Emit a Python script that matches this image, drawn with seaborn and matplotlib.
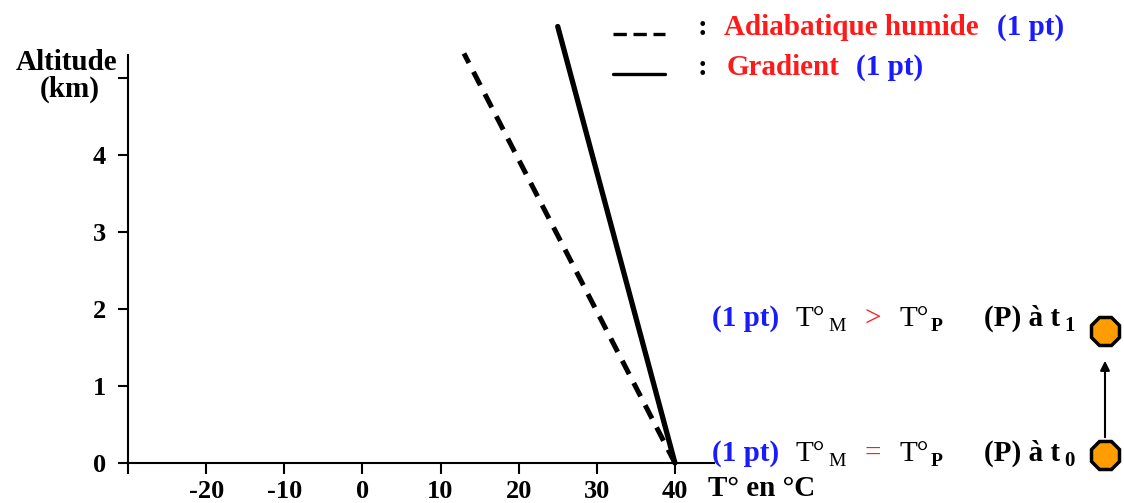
import numpy as np
import pandas as pd
import seaborn as sns
import matplotlib.pyplot as plt
from matplotlib.lines import Line2D

# ---- data ----
temp_humide = [40, 13]
alt_humide = [0, 5.32]
temp_gradient = [40, 25]
alt_gradient = [0, 5.67]
x_ticks = [-30, -20, -10, 0, 10, 20, 30, 40]
x_labels = ["", "-20", "-10", "0", "10", "20", "30", "40"]
y_ticks = [0, 1, 2, 3, 4, 5]
y_labels = ["0", "1", "2", "3", "4", ""]

sns.set_theme(style="white")
plt.rcParams['font.family'] = ['Liberation Serif', 'DejaVu Serif']
plt.rcParams['font.weight'] = 'bold'
plt.rcParams['text.color'] = 'black'

W, H = 1124, 503
fig = plt.figure(figsize=(W / 100, H / 100), dpi=100)
fig.patch.set_facecolor("white")


def px(x, y):
    return (x / W, 1 - y / H)


ax = fig.add_axes([128 / W, 1 - 463 / H, (714 - 128) / W, (463 - 55) / H])
ax.set_facecolor("white")

df_h = pd.DataFrame({"T": temp_humide, "alt": alt_humide})
df_g = pd.DataFrame({"T": temp_gradient, "alt": alt_gradient})
sns.lineplot(data=df_h, x="T", y="alt", sort=False, estimator=None, ax=ax,
             color="black", lw=3.6, linestyle=(0, (3.0, 2.0)), clip_on=False)
sns.lineplot(data=df_g, x="T", y="alt", sort=False, estimator=None, ax=ax,
             color="black", lw=3.8, clip_on=False)

ax.set_xlim(-30, 45)
ax.set_ylim(0, 5.3)
ax.set_xticks(x_ticks)
ax.set_xticklabels(x_labels)
ax.set_yticks(y_ticks)
ax.set_yticklabels(y_labels)
ax.set_xlabel("")
ax.set_ylabel("")
for s in ["top", "right"]:
    ax.spines[s].set_visible(False)
for s in ["left", "bottom"]:
    ax.spines[s].set_color("black")
    ax.spines[s].set_linewidth(1.5)
ax.tick_params(axis="x", bottom=True, direction="out", length=8, width=1.5,
               colors="black", labelsize=19, pad=4)
ax.tick_params(axis="y", left=True, direction="out", length=7, width=1.5,
               colors="black", labelsize=19, pad=9)
for lab in ax.get_xticklabels() + ax.get_yticklabels():
    lab.set_fontweight("bold")

fs = 21
# y-axis title
fig.text(*px(67, 70), "Altitude", ha="center", va="baseline", fontsize=fs, fontweight="bold")
fig.text(*px(70, 97), "(km)", ha="center", va="baseline", fontsize=fs, fontweight="bold")
# x-axis title
fig.text(*px(708, 496), "T° en °C", ha="left", va="baseline", fontsize=fs, fontweight="bold")

# legend
fig.add_artist(Line2D([px(613, 0)[0], px(665, 0)[0]], [px(0, 34)[1]] * 2, color="black",
                      lw=2.4, linestyle=(0, (4.0, 2.0)), transform=fig.transFigure))
fig.add_artist(Line2D([px(613, 0)[0], px(665, 0)[0]], [px(0, 74)[1]] * 2, color="black",
                      lw=2.4, transform=fig.transFigure))
fig.text(*px(698, 35), ":", ha="left", va="baseline", fontsize=fs, fontweight="bold")
fig.text(*px(724, 35), "Adiabatique humide", ha="left", va="baseline", fontsize=fs,
         fontweight="bold", color="#ff1a1a")
fig.text(*px(997, 35), "(1 pt)", ha="left", va="baseline", fontsize=fs,
         fontweight="bold", color="#1a1aff")
fig.text(*px(698, 75), ":", ha="left", va="baseline", fontsize=fs, fontweight="bold")
fig.text(*px(727, 75), "Gradient", ha="left", va="baseline", fontsize=fs,
         fontweight="bold", color="#ff1a1a")
fig.text(*px(856, 75), "(1 pt)", ha="left", va="baseline", fontsize=fs,
         fontweight="bold", color="#1a1aff")

# right-side annotations
rows = [(326, ">", "1", 331), (461, "=", "0", 455)]
for base, sym, sub, cy in rows:
    fig.text(*px(712, base), "(1 pt)", ha="left", va="baseline", fontsize=fs,
             fontweight="bold", color="#1a1aff")
    fig.text(*px(795, base), "T°", ha="left", va="baseline", fontsize=fs, fontweight="normal")
    fig.text(*px(828, base + 5), "M", ha="left", va="baseline", fontsize=14, fontweight="normal")
    fig.text(*px(864, base), sym, ha="left", va="baseline", fontsize=fs,
             fontweight="normal", color="#ff1a1a")
    fig.text(*px(899, base), "T°", ha="left", va="baseline", fontsize=fs, fontweight="normal")
    fig.text(*px(931, base + 5), "P", ha="left", va="baseline", fontsize=14, fontweight="bold")
    fig.text(*px(984, base), "(P) à t", ha="left", va="baseline", fontsize=fs, fontweight="bold")
    fig.text(*px(1064, base + 5), sub, ha="left", va="baseline", fontsize=15, fontweight="bold")
    fig.add_artist(Line2D([px(1105, 0)[0]], [px(0, cy)[1]], marker="8", markersize=22,
                          markerfacecolor="#ff9c00", markeredgecolor="black",
                          markeredgewidth=2.5, transform=fig.transFigure))

fig.add_artist(plt.Annotation("", xy=px(1105, 358), xytext=px(1105, 440),
                              xycoords="figure fraction", textcoords="figure fraction",
                              arrowprops=dict(arrowstyle="-|>", color="black", lw=1.5,
                                              mutation_scale=14)))

fig.savefig("out.png", dpi=100, facecolor="white")
